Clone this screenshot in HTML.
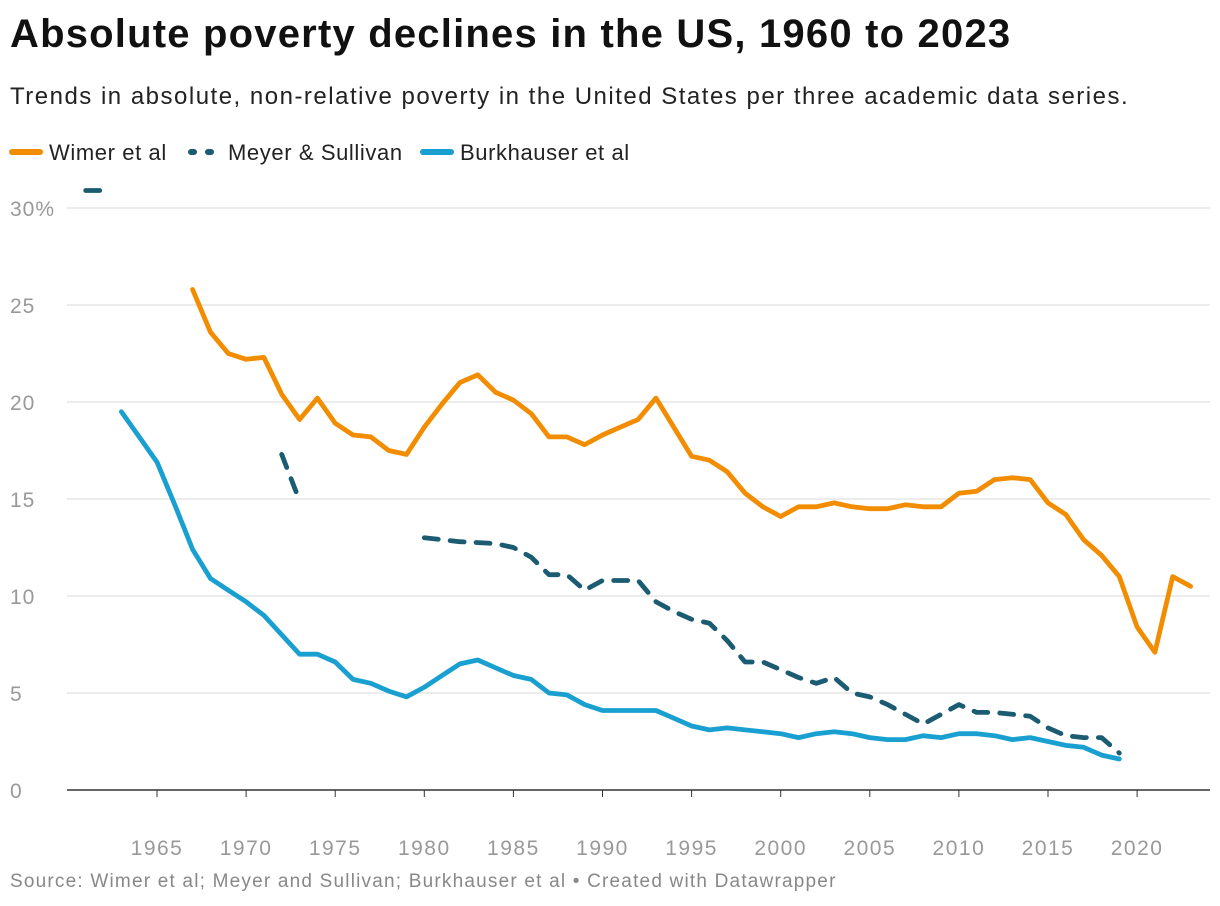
<!DOCTYPE html>
<html><head><meta charset="utf-8"><style>
body{margin:0;background:#fff;width:1220px;height:906px;overflow:hidden;font-family:"Liberation Sans",Arial,sans-serif}
#title{position:absolute;left:10px;top:12px;font-size:40px;font-weight:bold;color:#111;letter-spacing:1.2px;white-space:nowrap}
#sub{position:absolute;left:10px;top:83px;font-size:24px;color:#222;letter-spacing:1.5px;white-space:nowrap}
#src{position:absolute;left:10px;top:871px;font-size:19px;color:#888;letter-spacing:1.2px;white-space:nowrap}
svg{position:absolute;left:0;top:0}
</style></head><body>
<div id="title">Absolute poverty declines in the US, 1960 to 2023</div>
<div id="sub">Trends in absolute, non-relative poverty in the United States per three academic data series.</div>
<div id="src">Source: Wimer et al; Meyer and Sullivan; Burkhauser et al • Created with Datawrapper</div>
<svg id="chart" width="1220" height="906">
<g font-size="22" fill="#222" letter-spacing="0.6">
<line x1="12" y1="152" x2="40" y2="152" stroke="#f28c00" stroke-width="6" stroke-linecap="round"/>
<text x="49" y="160">Wimer et al</text>
<line x1="191" y1="152" x2="219" y2="152" stroke="#1b5c73" stroke-width="6" stroke-linecap="round" stroke-dasharray="3,14"/>
<text x="228" y="160">Meyer &amp; Sullivan</text>
<line x1="423" y1="152" x2="451" y2="152" stroke="#1aa0d0" stroke-width="6" stroke-linecap="round"/>
<text x="460" y="160">Burkhauser et al</text>
</g>
<g id="grid"></g><g id="lines"></g>
</svg>
<script>
const years=[];for(let y=1961;y<=2023;y++)years.push(y);
const yTicks=[0,5,10,15,20,25,30];
const xTicks=[1965,1970,1975,1980,1985,1990,1995,2000,2005,2010,2015,2020];
const wimerStart=1967;
const wimer=[25.8,23.6,22.5,22.2,22.3,20.4,19.1,20.2,18.9,18.3,18.2,17.5,17.3,18.7,19.9,21.0,21.4,20.5,20.1,19.4,18.2,18.2,17.8,18.3,18.7,19.1,20.2,18.7,17.2,17.0,16.4,15.3,14.6,14.1,14.6,14.6,14.8,14.6,14.5,14.5,14.7,14.6,14.6,15.3,15.4,16.0,16.1,16.0,14.8,14.2,12.9,12.1,11.0,8.4,7.1,11.0,10.5];
const meyerStart=1961;
const meyer=[30.9,30.9,null,null,null,null,null,null,null,null,null,17.3,14.9,null,null,null,null,null,null,13.0,12.9,12.8,12.75,12.7,12.5,12.0,11.1,11.1,10.3,10.8,10.8,10.8,9.7,9.2,8.8,8.6,7.7,6.6,6.6,6.2,5.8,5.5,5.8,5.0,4.8,4.4,3.9,3.4,3.9,4.4,4.0,4.0,3.9,3.8,3.2,2.8,2.7,2.7,1.9];
const burkStart=1963;
const burk=[19.5,18.2,16.9,14.7,12.4,10.9,10.3,9.7,9.0,8.0,7.0,7.0,6.6,5.7,5.5,5.1,4.8,5.3,5.9,6.5,6.7,6.3,5.9,5.7,5.0,4.9,4.4,4.1,4.1,4.1,4.1,3.7,3.3,3.1,3.2,3.1,3.0,2.9,2.7,2.9,3.0,2.9,2.7,2.6,2.6,2.8,2.7,2.9,2.9,2.8,2.6,2.7,2.5,2.3,2.2,1.8,1.6];
const NS="http://www.w3.org/2000/svg";
const X=y=>157+(y-1965)*17.82;
const Y=v=>790-v*19.4;
const grid=document.getElementById('grid'),lines=document.getElementById('lines');
function el(t,a,p){const e=document.createElementNS(NS,t);for(const k in a)e.setAttribute(k,a[k]);p.appendChild(e);return e;}
yTicks.forEach(v=>{
  const l=el('line',{x1:67,x2:1210,y1:Y(v),y2:Y(v),stroke:v?'#e0e0e0':'#333','stroke-width':v?1.2:1.4},grid);
  
  
  const t=el('text',{x:10,y:Y(v)+8,'font-size':21,fill:'#999','letter-spacing':1},grid);t.textContent=v===30?'30%':v;
  
  
});
xTicks.forEach(v=>{
  const k=el('line',{x1:X(v),x2:X(v),y1:790,y2:797,stroke:'#333'},grid);
  
  
  const t=el('text',{x:X(v),y:855,'font-size':21,fill:'#999','text-anchor':'middle','letter-spacing':1.5},grid);t.textContent=v;
  
  
});
function draw(start,vals,color,dash,name){
  let d='',pen=false;
  vals.forEach((v,i)=>{if(v==null){pen=false;return;}d+=(pen?'L':'M')+X(start+i).toFixed(1)+','+Y(v).toFixed(1);pen=true;});
  const p=el('path',{d:d,fill:'none',stroke:color,'stroke-width':4.8,'stroke-linejoin':'round','stroke-linecap':'round'},lines);
  if(dash)p.setAttribute('stroke-dasharray',dash);
  
  
}
draw(burkStart,burk,'#1aa0d0',null,'burkhauser-line');
draw(meyerStart,meyer,'#1b5c73','14,12','meyer-sullivan-line');
draw(wimerStart,wimer,'#f28c00',null,'wimer-line');
</script>
</body></html>
